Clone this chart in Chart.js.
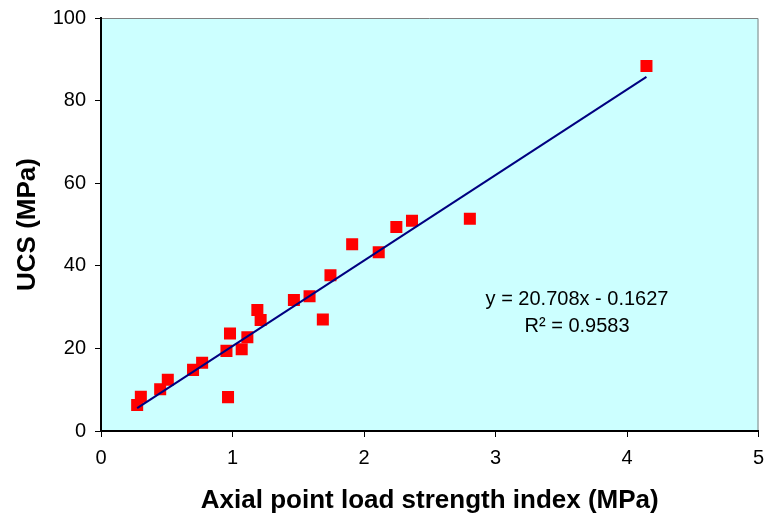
<!DOCTYPE html>
<html>
<head>
<meta charset="utf-8">
<script src="https://cdn.jsdelivr.net/npm/chart.js@4"></script>
<style>
html,body{margin:0;padding:0;background:#fff;}
#wrap{width:767px;height:523px;}
</style>
</head>
<body>
<div id="wrap"><canvas id="c" width="767" height="523"></canvas></div>
<script>
// Data
const pointLoadIndex = [0.275, 0.303, 0.450, 0.508, 0.700, 0.769, 0.954, 0.981, 0.966, 1.070, 1.113, 1.189, 1.214, 1.467, 1.586, 1.687, 1.745, 1.910, 2.112, 2.246, 2.365, 2.805, 4.148];
const ucsValues      = [6.3, 8.3, 10.1, 12.4, 14.8, 16.5, 19.4, 23.6, 8.2, 19.8, 22.7, 29.3, 26.9, 31.7, 32.6, 27.0, 37.7, 45.2, 43.3, 49.4, 50.9, 51.4, 88.4];
const trendSlope = 20.708;
const trendIntercept = -0.1627;
const trendX = [0.275, 4.148];
const trendY = trendX.map(x => trendSlope * x + trendIntercept);
const xTicks = [0, 1, 2, 3, 4, 5];
const yTicks = [0, 20, 40, 60, 80, 100];
const equationLines = ["y = 20.708x - 0.1627", "R² = 0.9583"];
const xTitle = "Axial point load strength index (MPa)";
const yTitle = "UCS (MPa)";

const FONT = "'Liberation Sans', Arial, sans-serif";

const bgPlugin = {
  id: 'plotBg',
  beforeDraw(chart) {
    const {ctx, chartArea: a} = chart;
    ctx.save();
    ctx.fillStyle = '#CCFFFF';
    ctx.fillRect(a.left, a.top, a.right - a.left, a.bottom - a.top);
    ctx.strokeStyle = '#808080';
    ctx.lineWidth = 1;
    ctx.beginPath();
    ctx.moveTo(a.left, a.top + 0.5);
    ctx.lineTo(a.right - 0.5, a.top + 0.5);
    ctx.lineTo(a.right - 0.5, a.bottom);
    ctx.stroke();
    ctx.restore();
  },
  afterDatasetsDraw(chart) {
    const {ctx, scales} = chart;
    ctx.save();
    ctx.fillStyle = '#000';
    ctx.font = "20px " + FONT;
    ctx.textAlign = 'center';
    ctx.textBaseline = 'middle';
    const cx = scales.x.getPixelForValue(3.62);
    ctx.fillText(equationLines[0], cx, scales.y.getPixelForValue(31.9));
    ctx.fillText(equationLines[1], cx, scales.y.getPixelForValue(25.4));
    ctx.restore();
  }
};

new Chart(document.getElementById('c'), {
  type: 'scatter',
  data: {
    datasets: [
      {
        type: 'line',
        label: 'trend',
        data: trendX.map((x, i) => ({x, y: trendY[i]})),
        borderColor: '#000080',
        borderWidth: 2,
        pointRadius: 0,
        fill: false,
        tension: 0
      },
      {
        label: 'UCS',
        data: pointLoadIndex.map((x, i) => ({x, y: ucsValues[i]})),
        pointStyle: 'rect',
        pointRadius: 8.5,
        pointHoverRadius: 8.5,
        backgroundColor: '#FF0000',
        borderColor: '#FF0000',
        borderWidth: 0
      }
    ]
  },
  options: {
    responsive: false,
    animation: false,
    events: [],
    layout: {padding: {top: 18, right: 8, left: 0, bottom: 0}},
    plugins: {legend: {display: false}, tooltip: {enabled: false}},
    scales: {
      x: {
        type: 'linear',
        min: 0, max: 5,
        afterBuildTicks(s) { s.ticks = xTicks.map(v => ({value: v})); },
        afterFit(s) { s.height = 92; s.paddingLeft = 0; s.paddingRight = 0; },
        border: {display: true, color: '#000', width: 2},
        grid: {display: true, drawOnChartArea: false, drawTicks: true, tickLength: 6, color: '#000', lineWidth: 1},
        ticks: {color: '#000', font: {family: FONT, size: 20}, padding: 9, maxRotation: 0},
        title: {display: true, text: xTitle, color: '#000', font: {family: FONT, size: 26, weight: 'bold'}, padding: {top: 0, bottom: 7}}
      },
      y: {
        type: 'linear',
        min: 0, max: 100,
        afterBuildTicks(s) { s.ticks = yTicks.map(v => ({value: v})); },
        afterFit(s) { s.width = 101; s.paddingTop = 0; s.paddingBottom = 0; },
        border: {display: true, color: '#000', width: 2},
        grid: {display: true, drawOnChartArea: false, drawTicks: true, tickLength: 6, color: '#000', lineWidth: 1},
        ticks: {color: '#000', font: {family: FONT, size: 20}, padding: 9},
        title: {display: true, text: yTitle, color: '#000', font: {family: FONT, size: 26, weight: 'bold'}, padding: {top: 12, bottom: 0}}
      }
    }
  },
  plugins: [bgPlugin]
});
</script>
</body>
</html>
